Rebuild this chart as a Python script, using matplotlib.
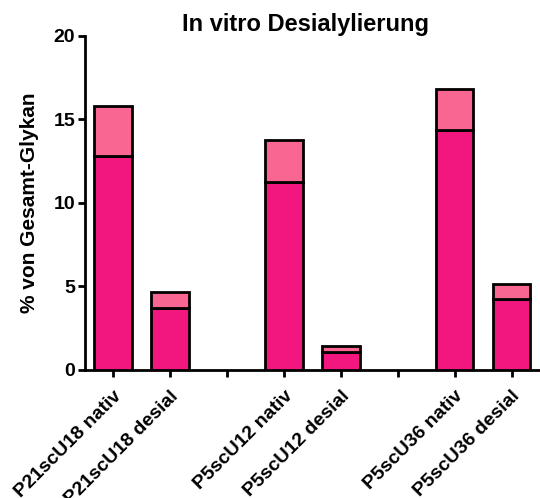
import matplotlib
matplotlib.use('Agg')
import matplotlib.pyplot as plt
import numpy as np

# Daten
labels = ['P21scU18 nativ', 'P21scU18 desial', '',
          'P5scU12 nativ', 'P5scU12 desial', '',
          'P5scU36 nativ', 'P5scU36 desial']
unten = [12.80, 3.68, np.nan, 11.22, 1.04, np.nan, 14.37, 4.22]
gesamt = [15.81, 4.64, np.nan, 13.74, 1.38, np.nan, 16.80, 5.10]
oben = [g - u for g, u in zip(gesamt, unten)]

plt.rcParams['font.family'] = ['Liberation Sans', 'DejaVu Sans']
plt.rcParams['font.weight'] = 'bold'

fig = plt.figure(figsize=(5.4, 4.98), dpi=100)
ax = fig.add_axes([0.157, 0.258, 0.843, 0.67])

x = np.arange(len(labels))
ax.bar(x, unten, width=0.66, color='#F2177F', edgecolor='black', linewidth=2, zorder=3)
ax.bar(x, oben, bottom=unten, width=0.66, color='#F96692', edgecolor='black', linewidth=2, zorder=3)

ax.set_xlim(-0.5, 7.5)
ax.set_ylim(0, 20)
ax.set_yticks([0, 5, 10, 15, 20])
ax.set_xticks(x)
ax.set_xticklabels(labels, rotation=45, ha='right', rotation_mode='anchor', fontsize=14, fontweight='bold')
ax.tick_params(axis='y', labelsize=14, width=2, length=5, pad=2)
ax.tick_params(axis='x', width=2, length=5, pad=8)
for lab in ax.get_yticklabels():
    lab.set_fontweight('bold')

for s in ['top', 'right']:
    ax.spines[s].set_visible(False)
for s in ['left', 'bottom']:
    ax.spines[s].set_linewidth(2)

ax.set_ylabel('% von Gesamt-Glykan', fontsize=15, fontweight='bold', labelpad=10)
ax.set_title('In vitro Desialylierung', fontsize=17, fontweight='bold', pad=0, x=0.484)

fig.savefig('out.png', dpi=100, facecolor='white')
